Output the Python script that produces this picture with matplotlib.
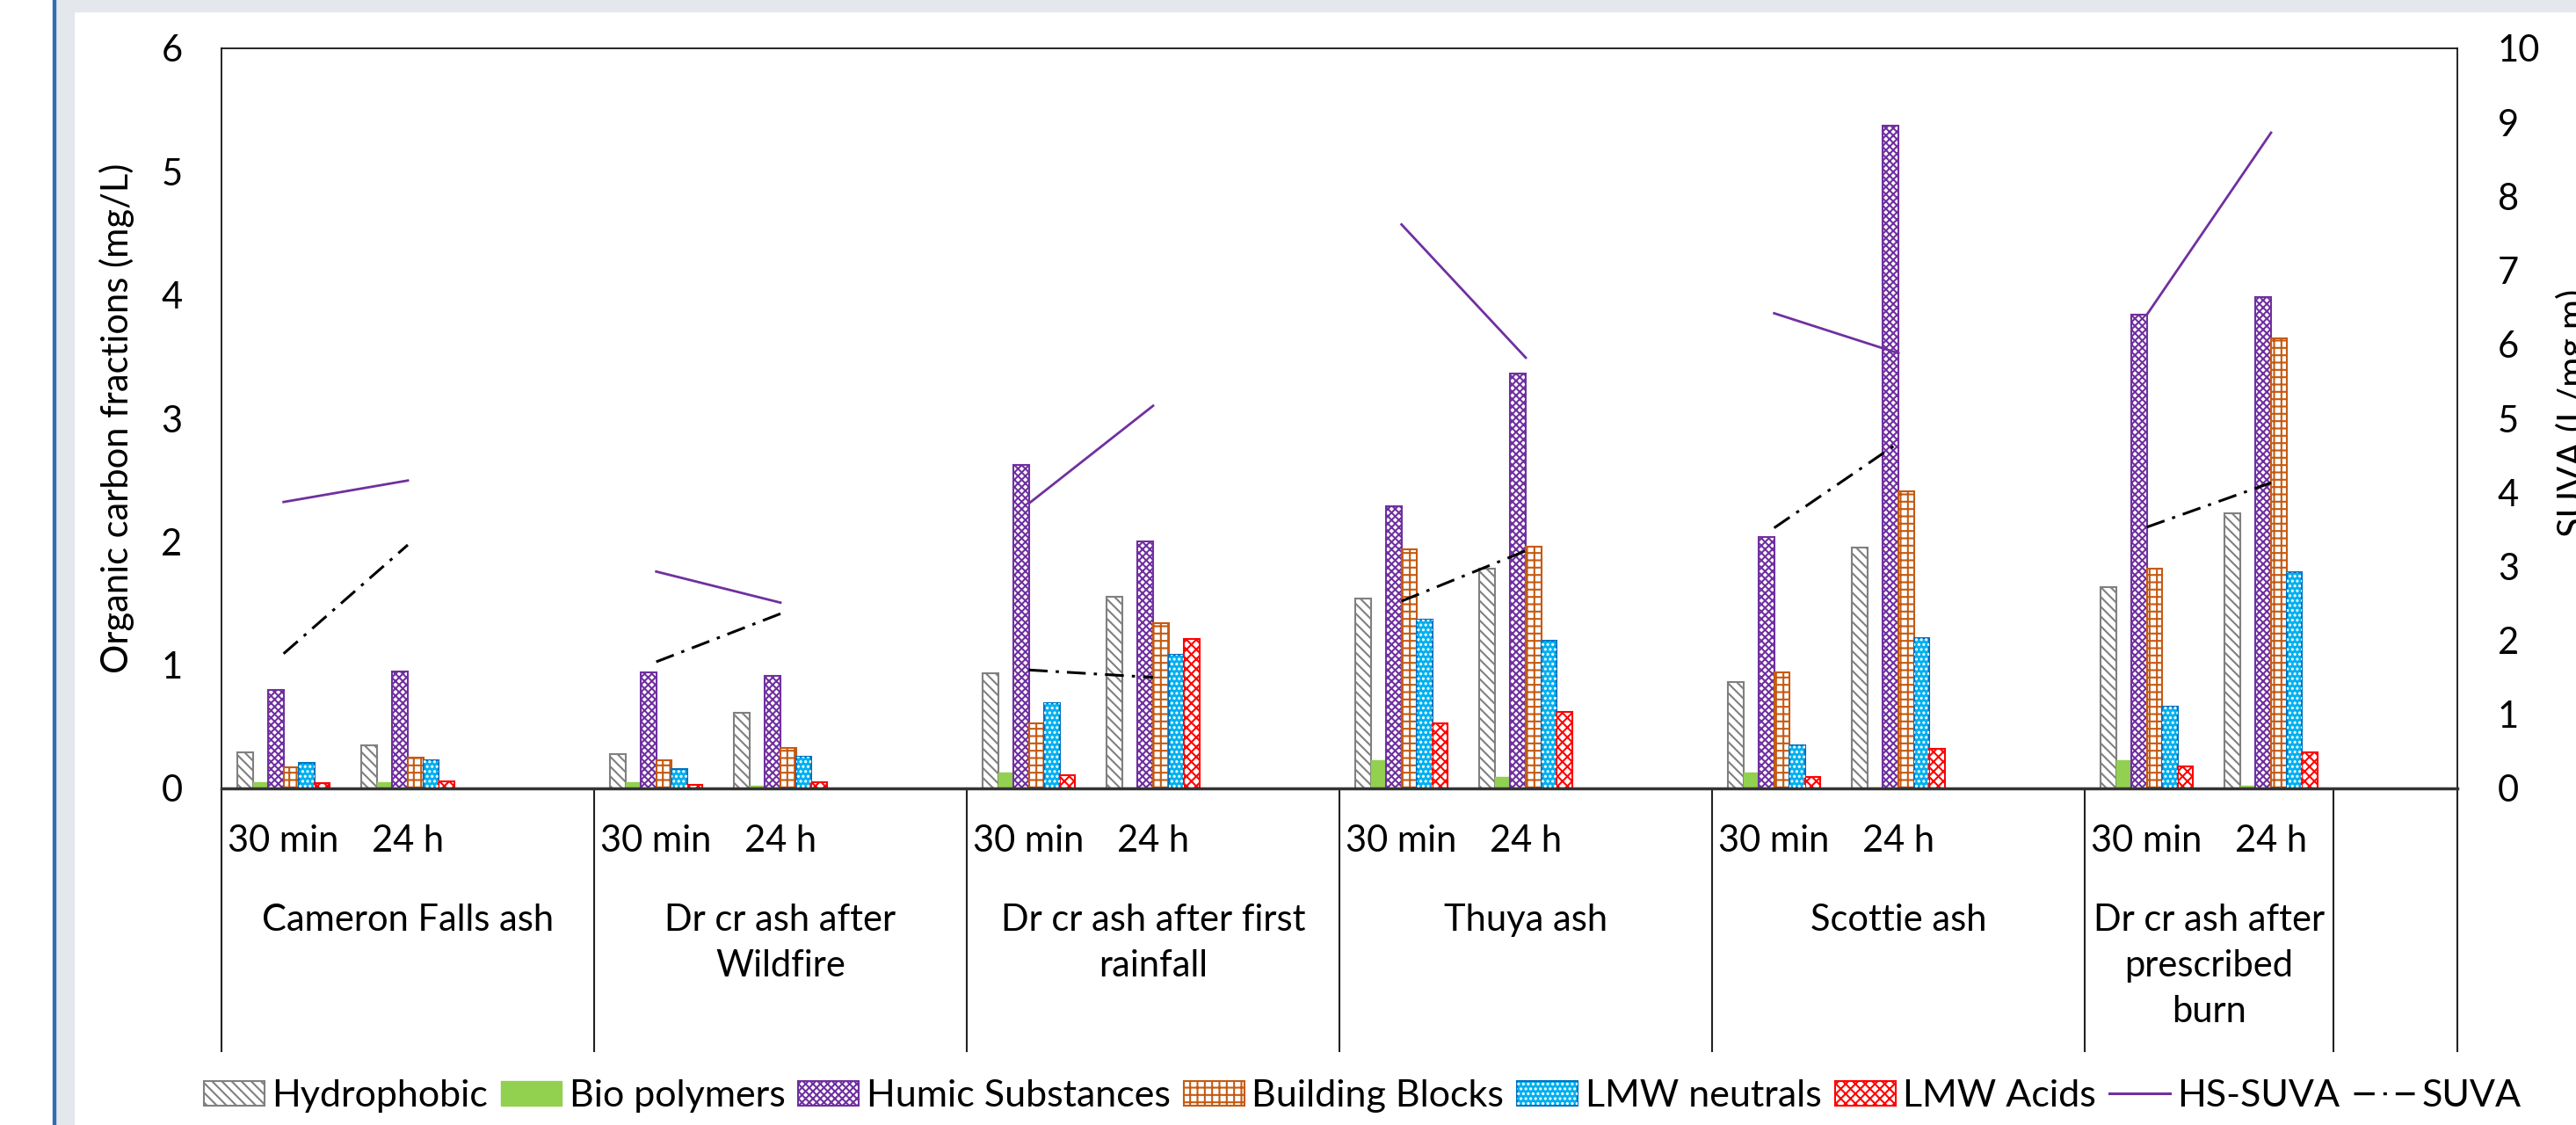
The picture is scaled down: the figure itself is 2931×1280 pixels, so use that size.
import matplotlib.pyplot as plt
import numpy as np
from matplotlib.patches import Patch, Rectangle
from matplotlib.lines import Line2D
import matplotlib.transforms as mtransforms

plt.rcParams['font.family'] = ['Lato', 'DejaVu Sans']
plt.rcParams['hatch.linewidth'] = 1.5

groups = ["Cameron Falls ash", "Dr cr ash after\nWildfire", "Dr cr ash after first\nrainfall",
          "Thuya ash", "Scottie ash", "Dr cr ash after\nprescribed\nburn"]
times = ["30 min", "24 h"]

# values per sample: (group, time) in order 30 min, 24 h for each group
hydrophobic = [0.29, 0.35, 0.28, 0.61, 0.93, 1.55, 1.54, 1.78, 0.86, 1.95, 1.63, 2.23]
bio_polymers = [0.05, 0.05, 0.05, 0.02, 0.13, 0.01, 0.23, 0.09, 0.125, 0.01, 0.23, 0.02]
humic = [0.80, 0.95, 0.94, 0.91, 2.62, 2.00, 2.29, 3.36, 2.04, 5.37, 3.84, 3.98]
building_blocks = [0.17, 0.25, 0.23, 0.33, 0.53, 1.34, 1.94, 1.96, 0.94, 2.41, 1.78, 3.65]
lmw_neutrals = [0.21, 0.23, 0.16, 0.26, 0.69, 1.08, 1.37, 1.20, 0.35, 1.22, 0.66, 1.75]
lmw_acids = [0.04, 0.06, 0.03, 0.05, 0.11, 1.21, 0.53, 0.62, 0.095, 0.32, 0.18, 0.29]
hs_suva = [3.87, 4.16, 2.93, 2.51, 3.85, 5.17, 7.62, 5.82, 6.42, 5.88, 6.40, 8.86]
suva = [1.82, 3.29, 1.71, 2.36, 1.60, 1.50, 2.53, 3.21, 3.52, 4.67, 3.53, 4.13]

W, H = 2931, 1280
fig = plt.figure(figsize=(W / 100, H / 100), dpi=100, facecolor='white')
gray = '#E4E7EC'
fig.patches.append(Rectangle((63 / W, 0), 21 / W, 1, transform=fig.transFigure, color=gray, zorder=0))
fig.patches.append(Rectangle((63 / W, 1 - 13 / H), 1, 13 / H, transform=fig.transFigure, color=gray, zorder=0))
fig.patches.append(Rectangle((60 / W, 0), 3 / W, 1, transform=fig.transFigure, color='#2F6DB5', zorder=0))

ax = fig.add_axes([252 / W, 1 - 897 / H, (2796 - 252) / W, (897 - 55) / H])
ax2 = ax.twinx()

# 18 category slots: 3 per group (30 min, 24 h, blank), last group has only 2 + one blank slot
n_slots = 18
xpos = []
for g in range(len(groups)):
    xpos += [3 * g + 0.5, 3 * g + 1.5]
xpos = np.array(xpos)

bw = 0.124
series = [
    (hydrophobic, dict(facecolor='white', edgecolor='#808080', hatch='\\\\\\', linewidth=1.5)),
    (bio_polymers, dict(facecolor='#92D050', edgecolor='#92D050', linewidth=1)),
    (humic, dict(facecolor='white', edgecolor='#7030A0', hatch='xxxx', linewidth=1.5)),
    (building_blocks, dict(facecolor='white', edgecolor='#C55A11', hatch='++', linewidth=1.5)),
    (lmw_neutrals, dict(facecolor='#00B0F0', edgecolor='#0070C0', linewidth=1.5)),
    (lmw_acids, dict(facecolor='white', edgecolor='#FF0000', hatch='xxx', linewidth=1.5)),
]
for k, (vals, style) in enumerate(series):
    ax.bar(xpos + (k - 2.5) * bw, vals, bw, **style, zorder=2)
    if k == 4:
        ax.bar(xpos + (k - 2.5) * bw, vals, bw, facecolor='none', edgecolor='white',
               hatch='...', linewidth=0, zorder=3)

# lines on secondary axis, broken between groups
hs_line = np.full(n_slots, np.nan)
suva_line = np.full(n_slots, np.nan)
for i, x in enumerate(xpos):
    s = int(x)
    hs_line[s] = hs_suva[i]
    suva_line[s] = suva[i]
xs = np.arange(n_slots) + 0.5
ax2.plot(xs, hs_line, color='#7030A0', lw=2.0, zorder=4)
ax2.plot(xs, suva_line, color='black', lw=2.2, linestyle=(0, (7, 3, 1.2, 3)), zorder=4)

ax.set_xlim(0, n_slots)
ax.set_ylim(0, 6)
ax2.set_ylim(0, 10)
ax.set_yticks(range(0, 7))
ax2.set_yticks(range(0, 11))
ax.set_xticks([])
ax.tick_params(axis='y', length=0, pad=32, labelsize=30)
ax2.tick_params(axis='y', length=0, pad=33, labelsize=30)
for sp in ax.spines.values():
    sp.set_linewidth(1.2)
ax.spines['bottom'].set_linewidth(2.5)
ax.spines['bottom'].set_color('#333333')
for sp in ax2.spines.values():
    sp.set_visible(False)

ax.set_ylabel("Organic carbon fractions (mg/L)", fontsize=30, labelpad=22)
fig.text(2908 / W, 1 - 470 / H, "SUVA (L/mg.m)", rotation=90, fontsize=30, ha='left', va='center')

# multi-level category axis
trans = mtransforms.blended_transform_factory(ax.transData, ax.transAxes)
bottom = -(1196 - 897) / (897 - 55)
for xv in [0, 3, 6, 9, 12, 15, 17, 18]:
    ax.plot([xv, xv], [0, bottom], transform=trans, color='#222222', lw=1.5, clip_on=False)
sub_y = -(957 - 897) / (897 - 55)
for i, x in enumerate(xpos):
    ax.text(x, sub_y, times[i % 2], transform=trans, ha='center', va='center', fontsize=30)
grp_y = -(1028 - 897) / (897 - 55)
for g, name in enumerate(groups):
    gx = 3 * g + (1.5 if g < 5 else 1.0)
    ax.text(gx, grp_y, name, transform=trans, ha='center', va='top', fontsize=30, linespacing=1.45)

handles = [
    Patch(facecolor='white', edgecolor='#808080', hatch='\\\\\\', linewidth=1.5),
    Patch(facecolor='#92D050', edgecolor='#92D050'),
    Patch(facecolor='white', edgecolor='#7030A0', hatch='xxxx', linewidth=1.5),
    Patch(facecolor='white', edgecolor='#C55A11', hatch='++', linewidth=1.5),
    (Patch(facecolor='#00B0F0', edgecolor='#0070C0', linewidth=1.5),
     Patch(facecolor='none', edgecolor='white', hatch='...', linewidth=0)),
    Patch(facecolor='white', edgecolor='#FF0000', hatch='xxx', linewidth=1.5),
    Line2D([], [], color='#7030A0', lw=2.2),
    Line2D([], [], color='black', lw=2.4, linestyle=(0, (7, 3, 1.2, 3))),
]
labels = ["Hydrophobic", "Bio polymers", "Humic Substances", "Building Blocks",
          "LMW neutrals", "LMW Acids", "HS-SUVA", "SUVA"]
fig.legend(handles, labels, loc='center', bbox_to_anchor=(1550 / W, 1 - 1247 / H), ncol=8,
           frameon=False, fontsize=31, handlelength=1.6, handleheight=0.65,
           handletextpad=0.2, columnspacing=0.35)

fig.savefig("out.png", dpi=100, facecolor=fig.get_facecolor())
